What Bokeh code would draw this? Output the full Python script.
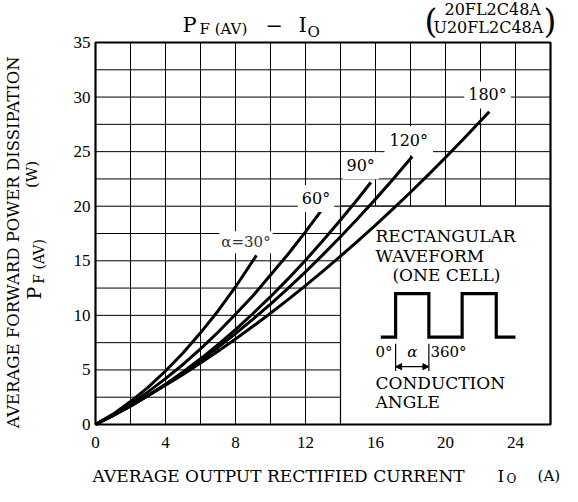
import math
from bokeh.plotting import figure
from bokeh.models import Range1d, Label, Arrow, NormalHead
from bokeh.embed import file_html
from bokeh.resources import INLINE

# ---------------- data ----------------
x_ticks = [0, 4, 8, 12, 16, 20, 24]
x_tick_labels = ["0", "4", "8", "12", "16", "20", "24"]
y_ticks = [0, 5, 10, 15, 20, 25, 30, 35]
y_tick_labels = ["0", "5", "10", "15", "20", "25", "30", "35"]
x_grid = [0, 2, 4, 6, 8, 10, 12, 14, 16, 18, 20, 22, 24, 26]
y_grid = [0, 2.5, 5, 7.5, 10, 12.5, 15, 17.5, 20, 22.5, 25, 27.5, 30, 32.5, 35]

io_30 = [0, 1, 2, 3, 4, 5, 6, 7, 8, 9.2]
pf_30 = [0, 0.95, 2.1, 3.4, 4.9, 6.55, 8.4, 10.4, 12.6, 15.5]

io_60 = [0, 1, 2, 3, 4, 5, 6, 7, 8, 9, 10, 11, 12, 12.9]
pf_60 = [0, 0.89, 1.89, 2.99, 4.2, 5.5, 6.93, 8.45, 10.1, 11.8, 13.7, 15.6, 17.65, 19.6]

io_90 = [0, 1, 2, 3, 4, 5, 6, 7, 8, 9, 10, 11, 12, 13, 14, 15, 15.73]
pf_90 = [0, 0.8, 1.67, 2.64, 3.68, 4.81, 6.02, 7.32, 8.7, 10.17, 11.71, 13.34, 15.05, 16.85, 18.73, 20.69, 22.17]

io_120 = [0, 1, 2, 3, 4, 5, 6, 7, 8, 9, 10, 11, 12, 13, 14, 15, 16, 17, 18.1]
pf_120 = [0, 0.82, 1.71, 2.65, 3.66, 4.73, 5.87, 7.06, 8.32, 9.65, 11.03, 12.48, 13.99, 15.56, 17.2, 18.89, 20.65, 22.48, 24.55]

io_180 = [0, 1, 2, 3, 4, 5, 6, 7, 8, 9, 10, 11, 12, 13, 14, 15, 16, 17, 18, 19, 20, 21, 22, 22.5]
pf_180 = [0, 0.84, 1.71, 2.63, 3.59, 4.59, 5.63, 6.71, 7.84, 9.0, 10.2, 11.44, 12.73, 14.05, 15.42, 16.82, 18.27, 19.76, 21.28, 22.85, 24.46, 26.11, 27.8, 28.65]

curve_names = ["α=30°", "60°", "90°", "120°", "180°"]

# inset (rectangular waveform sketch)
wave_x = [16.3, 17.15, 17.15, 19.05, 19.05, 20.95, 20.95, 22.9, 22.9, 24.0]
wave_y = [8, 8, 12, 12, 8, 8, 12, 12, 8, 8]

FONT = "DejaVu Serif"

# canvas 562x486; plot area 455x382 px with 95 px left / 62 px below
PX_X = 455 / 26.0
PX_Y = 382 / 35.0
p = figure(width=562, height=486,
           x_range=Range1d(-95 / PX_X, 467 / PX_X), y_range=Range1d(-62 / PX_Y, 424 / PX_Y),
           x_axis_type=None, y_axis_type=None,
           output_backend="svg", toolbar_location=None, min_border=0,
           background_fill_color="white", border_fill_color="white")
p.outline_line_color = None

x0, x1 = x_grid[0], x_grid[-1]
y0, y1 = y_grid[0], y_grid[-1]

# grid
p.segment(x0=x_grid, y0=[y0] * len(x_grid), x1=x_grid, y1=[y1] * len(x_grid),
          line_color="black", line_width=1)
p.segment(x0=[x0] * len(y_grid), y0=y_grid, x1=[x1] * len(y_grid), y1=y_grid,
          line_color="black", line_width=1)

# white inset panel hides the grid
inset_left, inset_bottom, inset_top = 14, 0, 20
p.quad(left=[inset_left], right=[x1], bottom=[inset_bottom], top=[inset_top],
       fill_color="white", line_color="black", line_width=1.2)

# tick labels
p.text(x=x_ticks, y=[y0] * len(x_ticks), text=x_tick_labels, y_offset=18,
       text_font=FONT, text_font_size="17px", text_align="center", text_baseline="middle",
       text_color="black")
p.text(x=[x0] * len(y_ticks), y=y_ticks, text=y_tick_labels, x_offset=-5,
       text_font=FONT, text_font_size="17px", text_align="right", text_baseline="middle",
       text_color="black")

for xs, ys in ((io_30, pf_30), (io_60, pf_60), (io_90, pf_90), (io_120, pf_120), (io_180, pf_180)):
    p.line(xs, ys, line_color="black", line_width=3, line_cap="butt", line_join="round")

# frame border
p.quad(left=[x0], right=[x1], bottom=[y0], top=[y1], fill_color=None,
       line_color="black", line_width=2.2)

# waveform sketch
p.line(wave_x, wave_y, line_color="black", line_width=3.2, line_join="miter")
p.segment(x0=[wave_x[1], wave_x[3]], y0=[7.4, 7.4], x1=[wave_x[1], wave_x[3]], y1=[4.9, 4.9],
          line_color="black", line_width=1.2)
p.add_layout(Arrow(x_start=wave_x[1], y_start=5.3, x_end=wave_x[3], y_end=5.3,
                   line_width=1.2, line_color="black",
                   start=NormalHead(size=6, fill_color="black", line_color="black"),
                   end=NormalHead(size=6, fill_color="black", line_color="black")))


def lab(x, y, text, size, align="left", baseline="middle", angle=0.0, style="normal",
        bg=None, pad=0, color="black"):
    kw = dict(x=x, y=y, text=text, text_font=FONT, text_font_size=f"{size}px",
              text_align=align, text_baseline=baseline, angle=angle, angle_units="rad",
              text_font_style=style, text_color=color)
    if bg:
        kw["background_fill_color"] = bg
        kw["padding"] = pad
    p.add_layout(Label(**kw))


# curve labels
lab(8.6, 16.7, curve_names[0], 15, align="center", bg="white", pad=2, color="#333333")
lab(12.6, 20.7, curve_names[1], 16, align="center", bg="white", pad=4)
lab(15.15, 23.7, curve_names[2], 16, align="center", bg="white", pad=4)
lab(17.9, 26.0, curve_names[3], 16, align="center", bg="white", pad=5)
lab(22.4, 30.2, curve_names[4], 16, align="center", bg="white", pad=4)

# inset text
lab(16.0, 17.3, "RECTANGULAR", 17)
lab(16.0, 15.45, "WAVEFORM", 17)
lab(16.97, 13.7, "(ONE CELL)", 17)
lab(16.0, 6.6, "0°", 15)
lab(18.1, 6.6, "α", 15, align="center", style="italic")
lab(19.14, 6.6, "360°", 15)
lab(16.0, 3.8, "CONDUCTION", 17)
lab(16.0, 2.04, "ANGLE", 17)

# title
lab(4.97, 36.56, "P", 21)
lab(5.94, 36.2, "F (AV)", 15)
lab(9.71, 36.6, "−", 21)
lab(11.6, 36.56, "I", 21)
lab(12.11, 36.0, "O", 15)

# part numbers
lab(19.94, 37.98, "20FL2C48A", 16)
lab(19.31, 36.33, "U20FL2C48A", 16)
lab(18.8, 36.92, "(", 33)
lab(25.6, 36.92, ")", 33)

# x-axis title
lab(-0.17, -4.76, "AVERAGE OUTPUT RECTIFIED CURRENT", 17)
lab(22.97, -4.76, "I", 17)
lab(23.49, -5.0, "O", 12)
lab(25.26, -4.76, "(A)", 15)

# y-axis title
lab(-4.69, 16.7, "AVERAGE FORWARD POWER DISSIPATION", 16.5, align="center", angle=math.pi / 2)
lab(-3.63, 22.9, "(W)", 15, align="center", angle=math.pi / 2)
lab(-3.49, 11.45, "P", 19, angle=math.pi / 2)
lab(-3.25, 12.9, "F (AV)", 14, angle=math.pi / 2)

open("out.html", "w").write(file_html(p, INLINE))
